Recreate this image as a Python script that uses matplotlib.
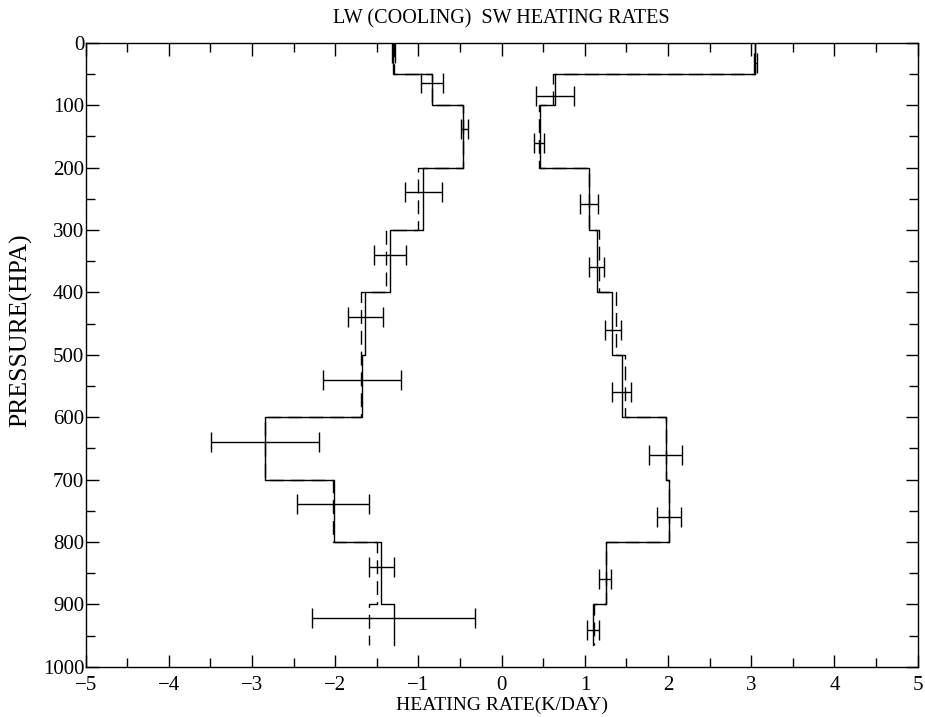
import matplotlib
matplotlib.use("Agg")
import matplotlib.pyplot as plt
from matplotlib.ticker import MultipleLocator
import numpy as np

plt.rcParams['font.family'] = ['Liberation Serif', 'DejaVu Serif']

# layer edges (hPa)
edges = [0, 50, 100, 200, 300, 400, 500, 600, 700, 800, 900, 965]

# longwave (cooling) profiles, K/day
lw_solid = [-1.31, -0.84, -0.46, -0.94, -1.34, -1.64, -1.68, -2.84, -2.02, -1.45, -1.30]
lw_dash = [-1.29, -0.84, -0.47, -1.00, -1.39, -1.69, -1.69, -2.84, -2.03, -1.50, -1.60]
lw_bar_p = [17, 64, 138, 240, 340, 440, 540, 640, 740, 840, 922]
lw_bar_x = [-1.30, -0.84, -0.45, -0.94, -1.34, -1.64, -1.68, -2.84, -2.03, -1.45, -1.30]
lw_bar_err = [0.02, 0.13, 0.04, 0.22, 0.19, 0.21, 0.47, 0.65, 0.43, 0.15, 0.98]

# shortwave heating profiles, K/day
sw_solid = [3.04, 0.64, 0.46, 1.05, 1.14, 1.33, 1.45, 1.97, 2.01, 1.25, 1.10]
sw_dash = [3.05, 0.62, 0.45, 1.05, 1.17, 1.38, 1.48, 1.98, 2.01, 1.25, 1.11]
sw_bar_p = [33, 85, 161, 258, 360, 460, 559, 661, 760, 860, 941]
sw_bar_x = [3.05, 0.64, 0.45, 1.05, 1.14, 1.34, 1.44, 1.97, 2.01, 1.24, 1.10]
sw_bar_err = [0.02, 0.23, 0.06, 0.11, 0.09, 0.10, 0.12, 0.20, 0.14, 0.07, 0.07]


def steps(vals):
    ys = np.repeat(edges, 2)[1:-1]
    xs = np.repeat(vals, 2)
    return xs, ys


fig = plt.figure(figsize=(9.25, 7.17), dpi=100)
ax = fig.add_axes([0.0926, 0.0701, 0.8995, 0.8703])

for vals in (lw_solid, sw_solid):
    x, y = steps(vals)
    ax.plot(x, y, color='black', lw=1.0)
for vals in (lw_dash, sw_dash):
    x, y = steps(vals)
    ax.plot(x, y, color='black', lw=1.0, dashes=[10, 5])

ax.errorbar(lw_bar_x, lw_bar_p, xerr=lw_bar_err, fmt='none', ecolor='black',
            elinewidth=1.0, capsize=7, capthick=1.0)
ax.errorbar(sw_bar_x, sw_bar_p, xerr=sw_bar_err, fmt='none', ecolor='black',
            elinewidth=1.0, capsize=7, capthick=1.0)

ax.set_xlim(-5, 5)
ax.set_ylim(1000, 0)
ax.xaxis.set_major_locator(MultipleLocator(1))
ax.xaxis.set_minor_locator(MultipleLocator(0.5))
ax.yaxis.set_major_locator(MultipleLocator(100))
ax.yaxis.set_minor_locator(MultipleLocator(50))
ax.tick_params(which='both', direction='in', top=True, right=True, labelsize=15)
ax.tick_params(axis='y', pad=1)
ax.tick_params(axis='x', pad=7)
ax.tick_params(which='major', length=9, width=1)
ax.tick_params(which='minor', length=6.5, width=1)
for s in ax.spines.values():
    s.set_linewidth(1.0)

ax.set_title('LW (COOLING)  SW HEATING RATES', fontsize=14.5, pad=14)
ax.set_xlabel('HEATING RATE(K/DAY)', fontsize=14, labelpad=1)
ax.set_ylabel('PRESSURE(HPA)', fontsize=18.5)
ax.yaxis.set_label_coords(-0.0645, 0.54)

fig.savefig('out.png', dpi=100)
